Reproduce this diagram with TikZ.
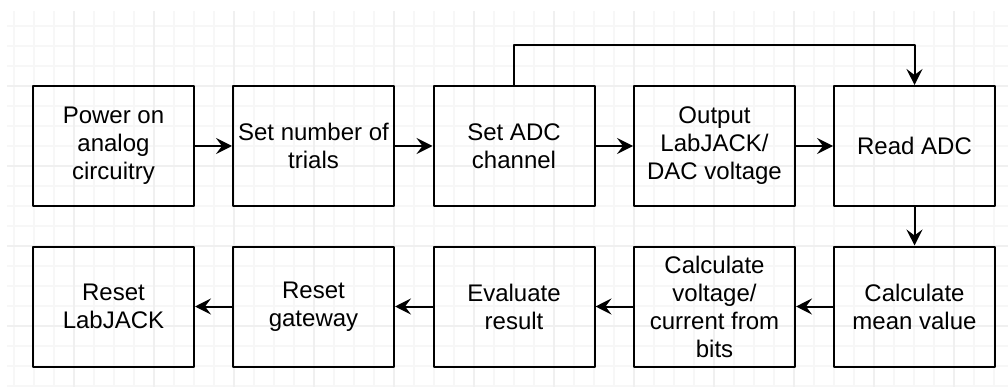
\documentclass[tikz,border=0pt]{standalone}
\usepackage{fontspec}
\setmainfont{Liberation Sans}
\usetikzlibrary{arrows.meta}
\begin{document}
\begin{tikzpicture}[x=1pt,y=-1pt,line join=round,>={Stealth[length=16pt,width=16pt,inset=6pt]}]
	\tikzset{stepbox/.style={draw,line width=2pt,minimum width=161pt,minimum height=120pt,inner sep=0pt,align=center,font=\fontsize{24}{28}\selectfont},
		flow/.style={->,line width=2pt}}
	\def\xmin{7} \def\xmax{1008}\def\ymin{11}\def\ymax{387}
	\useasboundingbox (0,0) rectangle (1008,387);
	% grid background
	\begin{scope}
		\clip (\xmin,\ymin) rectangle (\xmax,\ymax);
		\foreach \x in {14,34,...,1008} \draw[black!3,line width=1.5pt] (\x,\ymin)--(\x,\ymax);
		\foreach \y in {6,26,...,387} \draw[black!3,line width=1.5pt] (\xmin,\y)--(\xmax,\y);
		\foreach \x in {74,154,...,1008} \draw[black!6,line width=1.5pt] (\x,\ymin)--(\x,\ymax);
		\foreach \y in {86,166,...,387} \draw[black!6,line width=1.5pt] (\xmin,\y)--(\xmax,\y);
	\end{scope}
	% top row
	\node[stepbox] (power) at (113.5,146) {Power on\\analog\\circuitry};
	\node[stepbox] (trials) at (313.5,146) {Set number of\\trials};
	\node[stepbox] (channel) at (514,146) {Set ADC\\channel};
	\node[stepbox] (dac) at (714.5,146) {Output\\LabJACK/\\DAC voltage};
	\node[stepbox] (read) at (914.5,146) {Read ADC};
	% bottom row
	\node[stepbox] (mean) at (914.5,306.5) {Calculate\\mean value};
	\node[stepbox] (bits) at (714.5,306.5) {Calculate\\voltage/\\current from\\bits};
	\node[stepbox] (eval) at (514,306.5) {Evaluate\\result};
	\node[stepbox] (gateway) at (313.5,306.5) {Reset\\gateway};
	\node[stepbox] (reset) at (113.5,306.5) {Reset\\LabJACK};
	\coordinate (loopL) at (514,45.5);
	\coordinate (loopR) at (914.5,45.5);
	\draw[flow] (power)--(trials);
	\draw[flow] (trials)--(channel);
	\draw[flow] (channel)--(dac);
	\draw[flow] (dac)--(read);
	\draw[flow] (channel.north)--(loopL)--(loopR)--(read.north);
	\draw[flow] (read)--(mean);
	\draw[flow] (mean)--(bits);
	\draw[flow] (bits)--(eval);
	\draw[flow] (eval)--(gateway);
	\draw[flow] (gateway)--(reset);
\end{tikzpicture}
\end{document}
